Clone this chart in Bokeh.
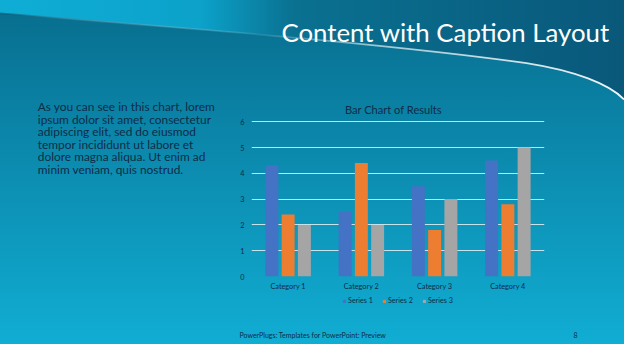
from urllib.parse import quote
from bokeh.plotting import figure
from bokeh.layouts import column, row
from bokeh.models import (ColumnDataSource, FactorRange, Range1d, FixedTicker,
                          Label, Legend, LegendItem)
from bokeh.transform import dodge
from bokeh.embed import file_html
from bokeh.resources import INLINE

# ---- data ----
categories = ["Category 1", "Category 2", "Category 3", "Category 4"]
series_names = ["Series 1", "Series 2", "Series 3"]
series1 = [4.3, 2.5, 3.5, 4.5]
series2 = [2.4, 4.4, 1.8, 2.8]
series3 = [2.0, 2.0, 3.0, 5.0]
y_ticks = [0, 1, 2, 3, 4, 5, 6]

slide_title = "Content with Caption Layout"
chart_title = "Bar Chart of Results"
caption_lines = [
    "As you can see in this chart, lorem",
    "ipsum dolor sit amet, consectetur",
    "adipiscing elit, sed do eiusmod",
    "tempor incididunt ut labore et",
    "dolore magna aliqua. Ut enim ad",
    "minim veniam, quis nostrud.",
]
footer_text = "PowerPlugs: Templates for PowerPoint: Preview"
page_number = "8"

# ---- styles ----
FONT = "Lato"
DARK = "#0f2c48"
COLORS = ["#4472C4", "#ED7D31", "#A5A5A5"]

W, H = 624, 344

svg = """<svg xmlns="http://www.w3.org/2000/svg" width="624" height="344" viewBox="0 0 640 360" preserveAspectRatio="none">
<defs>
<linearGradient id="bg" x1="0" y1="0" x2="0" y2="1">
<stop offset="0" stop-color="#086c8c"/><stop offset="0.3" stop-color="#0a80a3"/><stop offset="1" stop-color="#11add3"/>
</linearGradient>
<linearGradient id="tp" x1="0" y1="0" x2="640" y2="0" gradientUnits="userSpaceOnUse">
<stop offset="0" stop-color="#0fadd5"/><stop offset="0.32" stop-color="#0ca2ca"/><stop offset="0.47" stop-color="#0a7191"/><stop offset="1" stop-color="#09587a"/>
</linearGradient>
<linearGradient id="ln" x1="0" y1="0" x2="640" y2="0" gradientUnits="userSpaceOnUse">
<stop offset="0" stop-color="#05506a" stop-opacity="0.6"/><stop offset="0.42" stop-color="#ffffff" stop-opacity="0.1"/><stop offset="0.6" stop-color="#ffffff" stop-opacity="0.6"/><stop offset="1" stop-color="#ffffff" stop-opacity="0.95"/>
</linearGradient>
</defs>
<rect width="640" height="360" fill="url(#bg)"/>
<path d="M0,0 L640,0 L640,104 C625,88 590,74 540,66 C400,46 200,30 0,14 Z" fill="url(#tp)"/>
<path d="M0,14 C200,30 400,46 540,66 C590,74 625,88 640,104" fill="none" stroke="url(#ln)" stroke-width="1.8"/>
</svg>"""
bg_css = "url(\"data:image/svg+xml;charset=utf-8," + quote(svg) + "\")"

# ---- layout (canvas px) ----
TOP_H = 88          # slide title strip
MID_H = 206         # caption + chart
BOT_H = H - TOP_H - MID_H   # legend + footer (50)
LEFT_W = 230
CH_L, CH_B = 21, 18
CH_FW = 293
CH_R = W - LEFT_W - CH_L - CH_FW   # 80
CH_FH = MID_H - CH_B               # 188
PX_PER_UNIT = 25.8


def blank(w, h):
    f = figure(width=w, height=h, x_range=Range1d(0, w), y_range=Range1d(h, 0),
               output_backend="svg", toolbar_location=None,
               x_axis_location=None, y_axis_location=None, min_border=0)
    f.grid.visible = False
    f.outline_line_color = None
    f.background_fill_color = None
    f.border_fill_color = None
    return f


def lab(text, x, y, size, color=DARK, align="left", **kw):
    return Label(x=x, y=y, text=text, text_font=FONT, text_font_size=size,
                 text_color=color, text_align=align, text_baseline="alphabetic", **kw)


# top strip: slide title
top = blank(W, TOP_H)
top.add_layout(lab(slide_title, 281, 31, "25.8px", "#ffffff"))

# left: caption paragraph
left = blank(LEFT_W, MID_H)
for i, line in enumerate(caption_lines):
    left.add_layout(lab(line, 37.3, 20.0 + i * 13.66, "11.9px"))

# chart
src = ColumnDataSource(dict(cat=categories, s1=series1, s2=series2, s3=series3))
p = figure(x_range=FactorRange(factors=categories, range_padding=0),
           y_range=Range1d(0, CH_FH / PX_PER_UNIT),
           frame_width=CH_FW, frame_height=CH_FH,
           output_backend="svg", toolbar_location=None,
           min_border_left=CH_L, min_border_right=CH_R,
           min_border_top=0, min_border_bottom=CH_B)
p.background_fill_color = None
p.border_fill_color = None
p.outline_line_color = None

offsets = [-0.222, 0.0, 0.222]
for key, off, col in zip(["s1", "s2", "s3"], offsets, COLORS):
    p.vbar(x=dodge("cat", off, range=p.x_range), top=key, width=0.177,
           source=src, fill_color=col, line_color=None)

p.xgrid.visible = False
p.ygrid.ticker = FixedTicker(ticks=y_ticks)
p.ygrid.grid_line_color = "#d8eaf0"
p.ygrid.grid_line_alpha = 0.9

for ax in (p.xaxis, p.yaxis):
    ax.axis_line_color = None
    ax.major_tick_line_color = None
    ax.minor_tick_line_color = None
    ax.major_tick_in = 0
    ax.major_tick_out = 0
    ax.minor_tick_in = 0
    ax.minor_tick_out = 0
    ax.major_label_text_font = FONT
    ax.major_label_text_font_size = "7.3px"
    ax.major_label_text_color = DARK
p.yaxis.ticker = FixedTicker(ticks=y_ticks)
p.yaxis.major_label_standoff = 7
p.xaxis.major_label_standoff = 5

p.add_layout(Label(x=142, y=167, x_units="screen", y_units="screen",
                   text=chart_title, text_font=FONT, text_font_size="11.1px",
                   text_color=DARK, text_align="center", text_baseline="alphabetic"))

# bottom strip: legend + footer
bot = blank(W, BOT_H)
nan = float("nan")
items = []
for name, col in zip(series_names, COLORS):
    # legend proxy renderer: one NaN bar, so nothing is drawn in the strip itself
    r = bot.vbar(x=[nan], top=[nan], width=1, fill_color=col, line_color=None)
    items.append(LegendItem(label=name, renderers=[r]))
legend = Legend(items=items, orientation="horizontal", location=(342, 39),
                glyph_width=4, glyph_height=4, label_standoff=2, spacing=9,
                padding=0, margin=0, border_line_color=None,
                background_fill_alpha=0, label_text_font=FONT, label_height=8,
                label_text_font_size="7.2px", label_text_color=DARK)
bot.add_layout(legend)
bot.add_layout(lab(footer_text, 239, 40.5, "7px"))
bot.add_layout(lab(page_number, 573, 40.5, "7px"))

page = column(top, row(left, p, spacing=0), bot, spacing=0,
              styles={"background-image": bg_css,
                      "background-repeat": "no-repeat",
                      "background-size": "624px 344px",
                      "background-position": "0 0"})

open("out.html", "w").write(file_html(page, INLINE))
